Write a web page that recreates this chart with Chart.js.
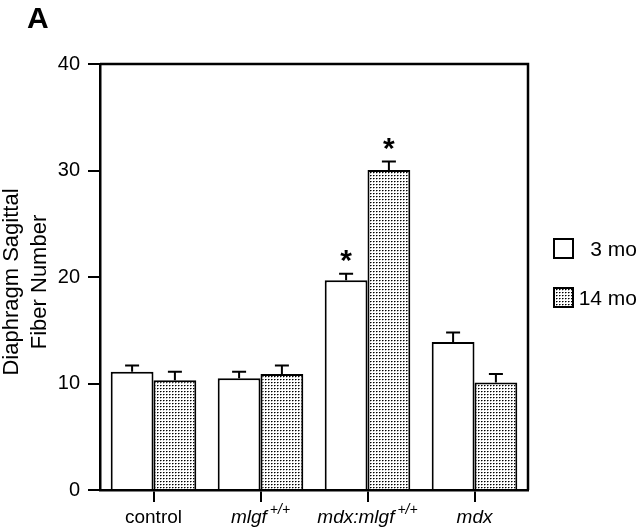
<!DOCTYPE html>
<html>
<head>
<meta charset="utf-8">
<script src="https://cdn.jsdelivr.net/npm/chart.js@4.4.1/dist/chart.umd.min.js"></script>
<style>
  html, body { margin: 0; padding: 0; background: #fff; }
  #wrap { width: 640px; height: 528px; }
</style>
</head>
<body>
<div id="wrap"><canvas id="chart" width="640" height="528"></canvas></div>
<script>
// ---- data ----
const categories = ['control', 'mlgf', 'mdx:mlgf', 'mdx'];
const catSuper = ['', '+/+', '+/+', ''];
const catItalic = [false, true, true, true];

const seriesNames = ['3 mo', '14 mo'];
const values3mo = [11.1, 10.5, 19.7, 13.9];
const errors3mo = [0.6, 0.6, 0.6, 0.9];
const values14mo = [10.3, 10.9, 30.05, 10.1];
const errors14mo = [0.8, 0.8, 0.8, 0.8];
const signif3mo = [false, false, true, false];
const signif14mo = [false, false, true, false];

const yTicks = [0, 10, 20, 30, 40];
const yTitle = ['Diaphragm Sagittal', 'Fiber Number'];

const FONT = '"Liberation Sans", Arial, Helvetica, sans-serif';

// dotted fill pattern for the 14 mo bars
const ctx0 = document.getElementById('chart').getContext('2d');
const dots = ctx0.createPattern((() => {
  const c = document.createElement('canvas');
  c.width = 3; c.height = 3;
  const g = c.getContext('2d');
  g.fillStyle = '#fff';
  g.fillRect(0, 0, 3, 3);
  g.fillStyle = '#000';
  g.fillRect(1, 1, 1, 1);
  g.fillStyle = '#777';
  g.fillRect(2, 1, 1, 1);
  g.fillStyle = '#bbb';
  g.fillRect(1, 2, 1, 1);
  return c;
})(), 'repeat');

const errorsBySet = [errors3mo, errors14mo];
const signifBySet = [signif3mo, signif14mo];

// error bars, stars, frame, labels, legend, panel letter
const extras = {
  id: 'extras',
  afterDatasetsDraw(chart) {
    const ctx = chart.ctx;
    const y = chart.scales.y;
    const area = chart.chartArea;
    ctx.save();
    ctx.strokeStyle = '#000';
    ctx.fillStyle = '#000';
    ctx.lineWidth = 2;
    chart.data.datasets.forEach((ds, di) => {
      const meta = chart.getDatasetMeta(di);
      meta.data.forEach((bar, i) => {
        const top = y.getPixelForValue(ds.data[i] + errorsBySet[di][i]);
        ctx.beginPath();
        ctx.moveTo(bar.x, bar.y);
        ctx.lineTo(bar.x, top);
        ctx.moveTo(bar.x - 7, top);
        ctx.lineTo(bar.x + 7, top);
        ctx.stroke();
        if (signifBySet[di][i]) {
          ctx.font = 'bold 30px ' + FONT;
          ctx.textAlign = 'center';
          ctx.textBaseline = 'middle';
          ctx.fillText('*', bar.x, top - 12);
        }
      });
    });

    // top and right frame
    ctx.lineWidth = 2.5;
    ctx.beginPath();
    ctx.moveTo(area.left, area.top);
    ctx.lineTo(area.right, area.top);
    ctx.lineTo(area.right, area.bottom);
    ctx.stroke();

    // y title, two rotated lines
    ctx.save();
    ctx.translate(26, 282);
    ctx.rotate(-Math.PI / 2);
    ctx.font = '22px ' + FONT;
    ctx.textAlign = 'center';
    ctx.textBaseline = 'middle';
    ctx.fillText(yTitle[0], 0, -14);
    ctx.fillText(yTitle[1], 0, 14);
    ctx.restore();

    // category labels
    const x = chart.scales.x;
    ctx.textBaseline = 'alphabetic';
    categories.forEach((name, i) => {
      const cx = x.getPixelForTick(i);
      const mainFont = (catItalic[i] ? 'italic ' : '') + '19px ' + FONT;
      const supFont = (catItalic[i] ? 'italic ' : '') + '14px ' + FONT;
      ctx.font = mainFont;
      const w1 = ctx.measureText(name).width;
      let w2 = 0;
      if (catSuper[i]) {
        ctx.font = supFont;
        w2 = ctx.measureText(catSuper[i]).width + 3;
      }
      const start = cx - (w1 + w2) / 2;
      ctx.textAlign = 'left';
      ctx.font = mainFont;
      ctx.fillText(name, start, 523);
      if (catSuper[i]) {
        ctx.font = supFont;
        ctx.fillText(catSuper[i], start + w1 + 3, 514);
      }
    });

    // legend
    const legendY = [249, 298];
    chart.data.datasets.forEach((ds, di) => {
      ctx.fillStyle = ds.backgroundColor;
      ctx.fillRect(554, legendY[di] - 10, 19, 19);
      ctx.lineWidth = 2;
      ctx.strokeStyle = '#000';
      ctx.strokeRect(554, legendY[di] - 10, 19, 19);
      ctx.fillStyle = '#000';
      ctx.font = '21px ' + FONT;
      ctx.textAlign = 'right';
      ctx.textBaseline = 'middle';
      ctx.fillText(ds.label, 637, legendY[di] + 1);
    });

    // panel letter
    ctx.font = 'bold 30px ' + FONT;
    ctx.textAlign = 'left';
    ctx.textBaseline = 'alphabetic';
    ctx.fillText('A', 27, 28);
    ctx.restore();
  }
};

new Chart(document.getElementById('chart'), {
  type: 'bar',
  data: {
    labels: categories,
    datasets: [
      {
        label: seriesNames[0],
        data: values3mo,
        backgroundColor: '#fff',
        borderColor: '#000',
        borderWidth: 2
      },
      {
        label: seriesNames[1],
        data: values14mo,
        backgroundColor: dots,
        borderColor: '#000',
        borderWidth: 2
      }
    ]
  },
  options: {
    responsive: false,
    animation: false,
    devicePixelRatio: 1,
    layout: { padding: { left: 0, top: 64, right: 112, bottom: 0 } },
    datasets: { bar: { categoryPercentage: 0.8, barPercentage: 1.0 } },
    plugins: {
      legend: { display: false },
      tooltip: { enabled: false }
    },
    scales: {
      x: {
        grid: { offset: false, drawOnChartArea: false, drawTicks: true, tickLength: 12, color: '#000', lineWidth: 2 },
        border: { display: true, color: '#000', width: 2.5 },
        ticks: { display: false },
        afterFit(scale) { scale.height = 38; }
      },
      y: {
        min: 0,
        max: 40,
        afterBuildTicks(scale) { scale.ticks = yTicks.map(v => ({ value: v })); },
        grid: { drawOnChartArea: false, drawTicks: true, tickLength: 12, color: '#000', lineWidth: 2 },
        border: { display: true, color: '#000', width: 2.5 },
        ticks: { color: '#000', padding: 8, font: { family: FONT, size: 20 } },
        afterFit(scale) { scale.width = 100; }
      }
    }
  },
  plugins: [extras]
});
</script>
</body>
</html>
